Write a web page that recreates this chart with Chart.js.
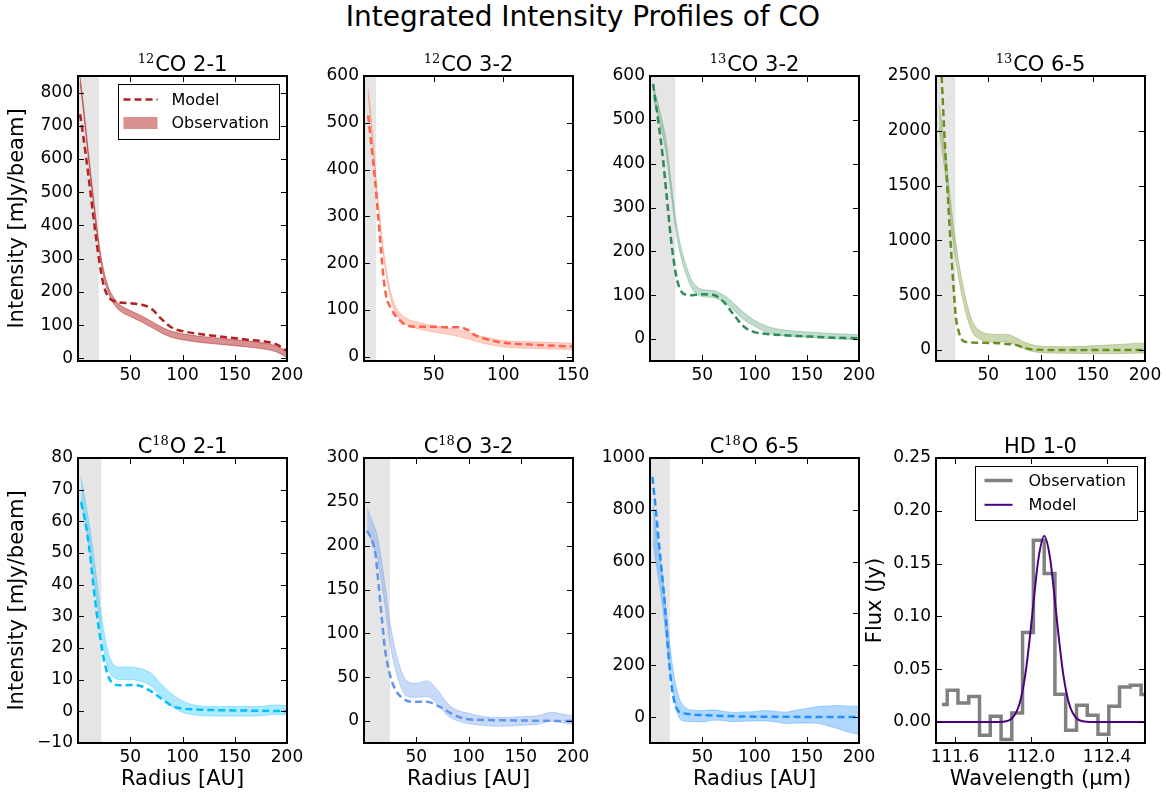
<!DOCTYPE html>
<html>
<head>
<meta charset="utf-8">
<script src="https://cdn.jsdelivr.net/npm/chart.js@4.4.0/dist/chart.umd.min.js"></script>
<style>
  html, body { margin: 0; padding: 0; background: #fff; overflow: hidden; }
  #fig { position: relative; width: 1166px; height: 796px; }
  #suptitle { position: absolute; left: 0; top: 3px; width: 1166px; text-align: center;
              font: 28px/28px "DejaVu Sans", sans-serif; color: #000; }
  canvas { position: absolute; }
</style>
</head>
<body>
<div id="fig"><div id="suptitle">Integrated Intensity Profiles of CO</div></div>
<script>
// ---------- radial profiles (radius in AU, intensity in mJy/beam) ----------

// 12CO 2-1
const co21_obsR  = [2, 5, 10, 15, 20, 25, 30, 35, 40, 50, 60, 70, 80, 90, 100, 120, 140, 160, 180, 190, 200];
const co21_obsLo = [829, 751, 601, 461, 331, 241, 189, 161, 143, 126, 111, 94, 76, 63, 56, 47, 41, 35, 27, 19, 3];
const co21_obsHi = [847, 769, 619, 479, 349, 259, 207, 179, 161, 144, 129, 112, 94, 81, 74, 65, 59, 53, 45, 37, 21];
const co21_modR  = [2, 5, 10, 15, 20, 25, 30, 35, 40, 50, 60, 70, 80, 90, 100, 120, 140, 160, 180, 190, 200];
const co21_mod   = [735, 670, 550, 420, 300, 215, 182, 172, 168, 166, 162, 150, 118, 92, 82, 72, 64, 57, 50, 42, 22];

// 12CO 3-2
const co32_obsR  = [3, 5, 8, 10, 15, 20, 25, 30, 40, 50, 60, 70, 80, 90, 100, 120, 150];
const co32_obsLo = [558, 498, 393, 323, 193, 115, 83, 69, 59, 53, 48, 42, 33, 26, 21, 18, 15];
const co32_obsHi = [572, 512, 407, 337, 207, 129, 97, 83, 73, 67, 62, 56, 47, 40, 35, 32, 29];
const co32_modR  = [3, 5, 8, 10, 15, 20, 25, 30, 40, 50, 60, 68, 74, 80, 90, 100, 120, 150];
const co32_mod   = [516, 460, 375, 305, 145, 100, 80, 68, 64, 64, 63, 63, 58, 46, 36, 30, 26, 22];

// 13CO 3-2
const c13co32_obsR  = [3, 8, 12, 16, 20, 25, 30, 35, 40, 50, 60, 70, 80, 90, 100, 110, 120, 140, 160, 180, 200];
const c13co32_obsLo = [551, 506, 466, 416, 337, 244, 184, 145, 116, 97, 95, 85, 66, 44, 29, 17, 10, 6, 3, 0, -2];
const c13co32_obsHi = [579, 534, 494, 444, 363, 268, 206, 165, 134, 113, 111, 101, 82, 60, 43, 31, 24, 18, 15, 12, 10];
const c13co32_modR  = [3, 8, 12, 16, 20, 25, 30, 35, 40, 50, 60, 70, 80, 90, 100, 110, 120, 140, 160, 180, 200];
const c13co32_mod   = [582, 495, 420, 325, 230, 145, 108, 101, 100, 102, 101, 86, 56, 28, 16, 12, 10, 7, 5, 3, 2];

// 13CO 6-5
const c13co65_obsR  = [3, 6, 10, 15, 20, 25, 30, 35, 40, 50, 60, 67, 75, 85, 95, 110, 130, 150, 170, 190, 200];
const c13co65_obsLo = [2020, 1810, 1520, 1090, 750, 490, 290, 160, 110, 77, 71, 75, 50, 10, -18, -28, -30, -32, -32, -30, -27];
const c13co65_obsHi = [2240, 2030, 1720, 1270, 910, 630, 410, 260, 190, 147, 141, 145, 120, 70, 42, 32, 30, 38, 48, 60, 63];
const c13co65_modR  = [4, 7.7, 12, 16, 19, 22, 25, 30, 40, 50, 60, 67, 77, 86, 100, 130, 160, 200];
const c13co65_mod   = [2800, 2030, 1290, 680, 300, 160, 92, 72, 66, 65, 62, 56, 45, 15, 2, 0, 0, 0];

// C18O 2-1
const c18o21_obsR  = [3, 8, 12, 16, 20, 25, 30, 35, 40, 50, 60, 70, 80, 90, 100, 110, 130, 150, 170, 190, 200];
const c18o21_obsLo = [67, 57.5, 49.5, 39.5, 30, 19, 12.5, 10.5, 10, 10, 9.5, 8, 4.5, 1.5, -0.3, -1.1, -1.5, -1.5, -1.5, -1, -1.2];
const c18o21_obsHi = [74, 64.5, 56.5, 46.5, 36, 25, 17.5, 14.5, 14, 14, 13.5, 12, 8.5, 5.5, 3.3, 2.1, 1.5, 1.5, 1.5, 2, 1.8];
const c18o21_modR  = [3, 8, 12, 16, 20, 25, 30, 35, 40, 50, 60, 70, 80, 90, 100, 110, 130, 150, 170, 190, 200];
const c18o21_mod   = [66, 58, 48, 36, 26, 16, 10.3, 8.5, 8.2, 8.3, 8, 6.3, 4, 1.7, 0.9, 0.6, 0.4, 0.3, 0.2, 0.1, 0];

// C18O 3-2
const c18o32_obsR  = [3, 8, 13, 19, 25, 30, 35, 40, 50, 60, 70, 80, 90, 100, 115, 130, 150, 165, 180, 190, 200];
const c18o32_obsLo = [218, 202, 184, 141, 88, 59, 40, 29, 27, 28, 20, 6, 0, -3, -5, -6, -5, -4, 0, -2, -4];
const c18o32_obsHi = [242, 228, 210, 165, 112, 81, 60, 47, 43, 46, 36, 20, 12, 9, 5, 4, 5, 6, 10, 8, 6];
const c18o32_modR  = [3, 8, 11, 14, 17, 20, 25, 30, 35, 45, 60, 73, 86, 100, 130, 160, 200];
const c18o32_mod   = [217, 205, 190, 155, 118, 83, 52, 36, 28, 22, 22, 16, 7, 2, 1, 0.5, 0];

// C18O 6-5
const c18o65_obsR  = [3, 6, 10, 13, 16, 19, 22, 25, 28, 32, 40, 50, 60, 70, 80, 90, 100, 110, 120, 130, 140, 150, 160, 170, 180, 190, 200];
const c18o65_obsLo = [675, 590, 490, 395, 290, 182, 95, 33, -3, -15, -17, -19, -12, -13, -18, -16, -15, -15, -18, -25, -23, -23, -24, -33, -45, -58, -67];
const c18o65_obsHi = [815, 720, 610, 505, 390, 278, 185, 117, 73, 45, 27, 25, 28, 23, 18, 20, 21, 25, 22, 19, 27, 33, 40, 43, 45, 42, 43];
const c18o65_modR  = [2.3, 5.6, 9.5, 14.4, 17.6, 20.8, 25.6, 30, 35, 60, 93, 130, 200];
const c18o65_mod   = [927, 798, 631, 425, 245, 116, 32, 18, 13, 6, 2, 1, 0];

// beam extent (AU) shaded at the inner edge of each profile
const beamCo21 = 20, beamCo32 = 8.7, beam13co32 = 24.3, beam13co65 = 18.6;
const beamC18o21 = 22.4, beamC18o32 = 24.9, beamC18o65 = 19;

// HD 1-0 spectrum (wavelength in micron, flux in Jy)
const hdWave = [111.531, 111.587, 111.644, 111.701, 111.757, 111.814, 111.871, 111.927, 111.984, 112.041,
                112.098, 112.154, 112.211, 112.268, 112.324, 112.381, 112.438, 112.494, 112.551, 112.608];
const hdFlux = [0.0165, 0.030, 0.018, 0.024, -0.0126, 0.0054, -0.0167, 0.0085, 0.0846, 0.172,
                0.1405, 0.0262, -0.0079, 0.0158, 0.0063, -0.0117, 0.0149, 0.0331, 0.0348, 0.026];
const hdModelWave = [111.5, 111.80, 111.85, 111.90, 111.94, 111.97, 112.00, 112.02, 112.04, 112.07,
                     112.10, 112.12, 112.14, 112.17, 112.20, 112.24, 112.29, 112.34, 112.6];
const hdModelFlux = [0, 0, 0.0002, 0.0034, 0.0174, 0.0447, 0.090, 0.125, 0.1556, 0.176,
                     0.1556, 0.125, 0.090, 0.0447, 0.0174, 0.0034, 0.0002, 0, 0];

// ---------- drawing helpers ----------
const FONT = '"DejaVu Sans", sans-serif';
Chart.defaults.font.family = FONT;
Chart.defaults.color = '#000';
Chart.defaults.animation = false;

const toXY = (xs, ys) => xs.map((x, i) => ({ x, y: ys[i] }));
const minusSign = s => String(s).replace('-', '\u2212');

// ticks at whole multiples of the step inside [min, max]
function stepTicks(min, max, step) {
  const out = [];
  for (let k = Math.ceil(min / step - 1e-9); k * step <= max + 1e-9; k++) {
    const v = +(k * step).toFixed(6);
    if (v > min + 1e-9 || Number.isInteger(min / step)) out.push({ value: v });
  }
  return out;
}

// grey strip marking the beam at small radii
const beamShade = {
  id: 'beamShade',
  beforeDatasetsDraw(chart, args, o) {
    if (!o || o.to == null) return;
    const { ctx, chartArea: a, scales: { x } } = chart;
    const x0 = Math.max(a.left, x.getPixelForValue(0));
    const x1 = Math.min(a.right, x.getPixelForValue(o.to));
    ctx.save();
    ctx.fillStyle = '#e5e5e5';
    ctx.fillRect(x0, a.top, x1 - x0, a.bottom - a.top);
    ctx.restore();
  }
};

// boxed axes with inward ticks on all four sides
const boxFrame = {
  id: 'boxFrame',
  afterDatasetsDraw(chart) {
    const { ctx, chartArea: a, scales: { x, y } } = chart;
    const L = 6;
    ctx.save();
    ctx.strokeStyle = '#000';
    ctx.lineWidth = 1;
    ctx.beginPath();
    x.ticks.forEach(t => {
      const px = Math.round(x.getPixelForValue(t.value)) + 0.5;
      ctx.moveTo(px, a.bottom); ctx.lineTo(px, a.bottom - L);
      ctx.moveTo(px, a.top); ctx.lineTo(px, a.top + L);
    });
    y.ticks.forEach(t => {
      const py = Math.round(y.getPixelForValue(t.value)) + 0.5;
      ctx.moveTo(a.left, py); ctx.lineTo(a.left + L, py);
      ctx.moveTo(a.right, py); ctx.lineTo(a.right - L, py);
    });
    ctx.stroke();
    ctx.lineWidth = 2;
    ctx.strokeRect(a.left, a.top, a.right - a.left, a.bottom - a.top);
    ctx.restore();
  }
};

// panel heading with an isotope superscript
const panelTitle = {
  id: 'panelTitle',
  afterDraw(chart, args, o) {
    if (!o || !o.post) return;
    const { ctx, chartArea: a } = chart;
    const main = '21px ' + FONT, small = '13px "DejaVu Serif", serif';
    ctx.save();
    ctx.fillStyle = '#000';
    ctx.textAlign = 'left';
    ctx.textBaseline = 'alphabetic';
    ctx.font = main;
    const wPre = ctx.measureText(o.pre || '').width;
    const wPost = ctx.measureText(o.post).width;
    ctx.font = small;
    const wSup = o.sup ? ctx.measureText(o.sup).width + 1 : 0;
    let x = (a.left + a.right) / 2 - (wPre + wSup + wPost) / 2;
    const y = a.top - 5;
    ctx.font = main;
    if (o.pre) ctx.fillText(o.pre, x, y);
    x += wPre;
    if (o.sup) { ctx.font = small; ctx.fillText(o.sup, x, y - 8); x += wSup; }
    ctx.font = main;
    ctx.fillText(o.post, x, y);
    ctx.restore();
  }
};

// framed legend in the upper-right corner of the axes
const boxLegend = {
  id: 'boxLegend',
  afterDraw(chart, args, o) {
    if (!o || !o.items) return;
    const { ctx, chartArea: a } = chart;
    const x0 = a.right - o.right - o.width, y0 = a.top + o.top;
    ctx.save();
    ctx.fillStyle = '#fff';
    ctx.fillRect(x0, y0, o.width, o.height);
    ctx.strokeStyle = '#000';
    ctx.lineWidth = 1;
    ctx.strokeRect(Math.round(x0) + 0.5, Math.round(y0) + 0.5, o.width, o.height);
    o.items.forEach((it, i) => {
      const ds = chart.data.datasets[it.ds];
      const cy = y0 + o.firstRow + i * o.rowGap;
      const hx = x0 + o.handleLeft;
      if (it.kind === 'patch') {
        ctx.fillStyle = ds.backgroundColor;
        ctx.fillRect(hx, cy - 6, o.handleLen, 12);
      } else {
        ctx.strokeStyle = ds.borderColor;
        ctx.lineWidth = ds.borderWidth;
        ctx.setLineDash(ds.borderDash || []);
        ctx.beginPath();
        ctx.moveTo(hx, cy); ctx.lineTo(hx + o.handleLen, cy);
        ctx.stroke();
        ctx.setLineDash([]);
      }
      ctx.fillStyle = '#000';
      ctx.font = '16px ' + FONT;
      ctx.textAlign = 'left';
      ctx.textBaseline = 'middle';
      ctx.fillText(ds.label, x0 + o.textLeft, cy + 1);
    });
    ctx.restore();
  }
};

Chart.register(beamShade, boxFrame, panelTitle, boxLegend);

// ---------- panel geometry ----------
const PLOT_W = 209, PLOT_H = 285;
const PAD_L = 80, PAD_T = 45, PAD_R = 30, PAD_B = 60;

function xAxis(min, max, step, title, fmt) {
  return {
    type: 'linear', min, max,
    ticks: { stepSize: step, padding: 4, font: { size: 17 },
             autoSkip: false, maxRotation: 0, callback: fmt },
    afterBuildTicks: s => { s.ticks = stepTicks(min, max, step).filter(t => t.value > min + 1e-9); },
    grid: { display: false, drawTicks: false },
    border: { display: false },
    title: { display: !!title, text: title || '', font: { size: 21 }, padding: { top: 0, bottom: 11 } },
    afterFit: s => { s.height = PAD_B; }
  };
}

function yAxis(min, max, step, title, fmt) {
  return {
    type: 'linear', min, max,
    ticks: { stepSize: step, padding: 5, font: { size: 17 }, callback: fmt },
    afterBuildTicks: s => { s.ticks = stepTicks(min, max, step); },
    grid: { display: false, drawTicks: false },
    border: { display: false },
    title: { display: !!title, text: title || '', font: { size: 21 }, padding: { top: 7, bottom: 0 } },
    afterFit: s => { s.width = PAD_L; }
  };
}

function profileDatasets(obsR, lo, hi, modR, mod, line, band) {
  return [
    { label: 'Observation lower', data: toXY(obsR, lo), borderColor: band, borderWidth: 1,
      pointRadius: 0, fill: false, cubicInterpolationMode: 'monotone', order: 2, clip: 0 },
    { label: 'Observation', data: toXY(obsR, hi), borderColor: band, borderWidth: 1,
      backgroundColor: band, pointRadius: 0, fill: '-1', cubicInterpolationMode: 'monotone', order: 2, clip: 0 },
    { label: 'Model', data: toXY(modR, mod), borderColor: line, borderWidth: 2.5, borderDash: [7, 4],
      pointRadius: 0, fill: false, cubicInterpolationMode: 'monotone', order: 0, clip: 0 }
  ];
}

function makePanel(left, top, datasets, scales, plugins) {
  const cv = document.createElement('canvas');
  cv.width = PAD_L + PLOT_W + PAD_R;
  cv.height = PAD_T + PLOT_H + PAD_B;
  cv.style.left = (left - PAD_L) + 'px';
  cv.style.top = (top - PAD_T) + 'px';
  document.getElementById('fig').appendChild(cv);
  return new Chart(cv, {
    type: 'line',
    data: { datasets },
    options: {
      responsive: false,
      animation: false,
      layout: { padding: { left: 0, top: PAD_T, right: PAD_R, bottom: 0 } },
      scales,
      plugins: Object.assign({ legend: { display: false }, tooltip: { enabled: false } }, plugins)
    }
  });
}

const intFmt = v => minusSign(v);
const COLS = [78, 364, 650, 936], ROWS = [76, 458];
const IY = 'Intensity [mJy/beam]', RX = 'Radius [AU]';

// top row
makePanel(COLS[0], ROWS[0],
  profileDatasets(co21_obsR, co21_obsLo, co21_obsHi, co21_modR, co21_mod, '#b22222', 'rgba(178,34,34,0.5)'),
  { x: xAxis(0, 200, 50, null, intFmt), y: yAxis(-8, 850, 100, IY, intFmt) },
  { beamShade: { to: beamCo21 }, panelTitle: { sup: '12', post: 'CO 2-1' },
    boxLegend: { right: 8.5, top: 7.5, width: 161, height: 55, firstRow: 16, rowGap: 23.5,
                 handleLeft: 6, handleLen: 34, textLeft: 54,
                 items: [{ ds: 2, kind: 'line' }, { ds: 1, kind: 'patch' }] } });

makePanel(COLS[1], ROWS[0],
  profileDatasets(co32_obsR, co32_obsLo, co32_obsHi, co32_modR, co32_mod, '#ff6347', 'rgba(255,99,71,0.3)'),
  { x: xAxis(0, 150, 50, null, intFmt), y: yAxis(-9, 600, 100, null, intFmt) },
  { beamShade: { to: beamCo32 }, panelTitle: { sup: '12', post: 'CO 3-2' } });

makePanel(COLS[2], ROWS[0],
  profileDatasets(c13co32_obsR, c13co32_obsLo, c13co32_obsHi, c13co32_modR, c13co32_mod, '#2e8b57', 'rgba(46,139,87,0.3)'),
  { x: xAxis(0, 200, 50, null, intFmt), y: yAxis(-50, 600, 100, null, intFmt) },
  { beamShade: { to: beam13co32 }, panelTitle: { sup: '13', post: 'CO 3-2' } });

makePanel(COLS[3], ROWS[0],
  profileDatasets(c13co65_obsR, c13co65_obsLo, c13co65_obsHi, c13co65_modR, c13co65_mod, '#6b8e23', 'rgba(107,142,35,0.35)'),
  { x: xAxis(0, 200, 50, null, intFmt), y: yAxis(-100, 2500, 500, null, intFmt) },
  { beamShade: { to: beam13co65 }, panelTitle: { sup: '13', post: 'CO 6-5' } });

// bottom row
makePanel(COLS[0], ROWS[1],
  profileDatasets(c18o21_obsR, c18o21_obsLo, c18o21_obsHi, c18o21_modR, c18o21_mod, '#00bfff', 'rgba(0,191,255,0.32)'),
  { x: xAxis(0, 200, 50, RX, intFmt), y: yAxis(-10, 80, 10, IY, intFmt) },
  { beamShade: { to: beamC18o21 }, panelTitle: { pre: 'C', sup: '18', post: 'O 2-1' } });

makePanel(COLS[1], ROWS[1],
  profileDatasets(c18o32_obsR, c18o32_obsLo, c18o32_obsHi, c18o32_modR, c18o32_mod, '#6495ed', 'rgba(100,149,237,0.35)'),
  { x: xAxis(0, 200, 50, RX, intFmt), y: yAxis(-25, 300, 50, null, intFmt) },
  { beamShade: { to: beamC18o32 }, panelTitle: { pre: 'C', sup: '18', post: 'O 3-2' } });

makePanel(COLS[2], ROWS[1],
  profileDatasets(c18o65_obsR, c18o65_obsLo, c18o65_obsHi, c18o65_modR, c18o65_mod, '#1e90ff', 'rgba(30,144,255,0.35)'),
  { x: xAxis(0, 200, 50, RX, intFmt), y: yAxis(-100, 1000, 200, null, intFmt) },
  { beamShade: { to: beamC18o65 }, panelTitle: { pre: 'C', sup: '18', post: 'O 6-5' } });

makePanel(COLS[3], ROWS[1],
  [
    { label: 'Observation', data: toXY(hdWave, hdFlux), stepped: 'middle', borderColor: '#808080',
      borderWidth: 3.5, pointRadius: 0, fill: false, order: 1, clip: 0 },
    { label: 'Model', data: toXY(hdModelWave, hdModelFlux), borderColor: '#4b0082', borderWidth: 2,
      pointRadius: 0, fill: false, cubicInterpolationMode: 'monotone', order: 0, clip: 0 }
  ],
  { x: xAxis(111.5, 112.6, 0.4, 'Wavelength (\u03bcm)', v => v.toFixed(1)),
    y: yAxis(-0.02, 0.25, 0.05, 'Flux (Jy)', v => minusSign(v.toFixed(2))) },
  { panelTitle: { post: 'HD 1-0' },
    boxLegend: { right: 8.5, top: 7.5, width: 162, height: 54, firstRow: 15, rowGap: 24.3,
                 handleLeft: 10, handleLen: 28, textLeft: 54,
                 items: [{ ds: 0, kind: 'line' }, { ds: 1, kind: 'line' }] } });
</script>
</body>
</html>
